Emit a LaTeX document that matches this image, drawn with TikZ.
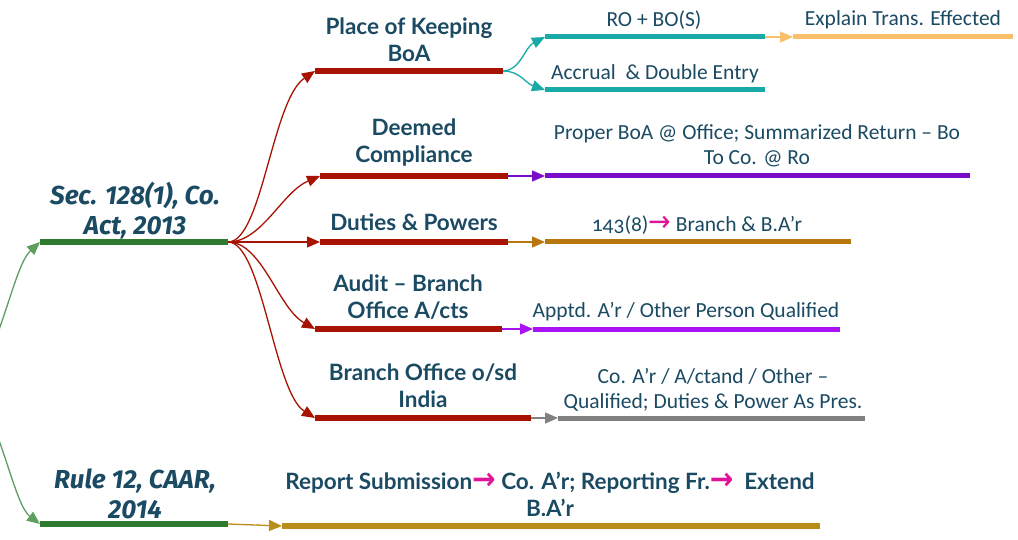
\documentclass[tikz,border=0pt]{standalone}
\usepackage{fontspec}
\setmainfont{Carlito}
\newfontfamily\headfont{Lato}
\newfontfamily\rootfont{Fira Sans}
\newfontfamily\symfont{DejaVu Sans}
\usetikzlibrary{arrows.meta}
\definecolor{ink}{HTML}{1B4A63}
\definecolor{cgreen}{HTML}{2E7A2E}
\definecolor{cgreenl}{HTML}{5E9E5E}
\definecolor{cred}{HTML}{A81200}
\definecolor{cteal}{HTML}{17AAA6}
\definecolor{corange}{HTML}{F9BF6A}
\definecolor{cpurple}{HTML}{7A0DC8}
\definecolor{cbrown}{HTML}{B8770C}
\definecolor{cviolet}{HTML}{A912F5}
\definecolor{cgray}{HTML}{808080}
\definecolor{cgold}{HTML}{B98C1C}
\definecolor{cpink}{HTML}{E0139B}
\newcommand{\parr}{{\symfont\color{cpink}\scalebox{1.25}[1.35]{→}}}
\tikzset{
  bar/.style={line width=6pt, line cap=butt},
  link/.style={line width=1.3pt, -{Triangle[length=13pt,width=11pt]}},
  head/.style={font=\headfont\bfseries\fontsize{22.5}{27}\selectfont, text=ink, align=center, inner sep=0pt},
  sub/.style={font=\fontsize{21.5}{25}\selectfont, text=ink, align=center, inner sep=0pt},
  rootlab/.style={font=\rootfont\bfseries\itshape\fontsize{26}{30}\selectfont, text=ink, align=center, inner sep=0pt},
}
\begin{document}
\begin{tikzpicture}[x=1pt,y=1pt]
\useasboundingbox[fill=white] (0,0) rectangle (1018,-540);
\clip (0,0) rectangle (1018,-540);
% coordinates
\coordinate (par) at (-25,-385);
\coordinate (r1s) at (40,-242);  \coordinate (r1e) at (228,-242);
\coordinate (r2s) at (40,-524);  \coordinate (r2e) at (228,-524);
\coordinate (a1s) at (315,-71);  \coordinate (a1e) at (503,-71);
\coordinate (a2s) at (320,-176); \coordinate (a2e) at (508,-176);
\coordinate (a3s) at (320,-242); \coordinate (a3e) at (508,-242);
\coordinate (a4s) at (315,-329); \coordinate (a4e) at (502,-329);
\coordinate (a5s) at (315,-418); \coordinate (a5e) at (531,-418);
\coordinate (b1s) at (545,-37);  \coordinate (b1e) at (765,-37);
\coordinate (b2s) at (545,-90);  \coordinate (b2e) at (765,-90);
\coordinate (c1s) at (793,-37);  \coordinate (c1e) at (1013,-37);
\coordinate (d2s) at (545,-176); \coordinate (d2e) at (970,-176);
\coordinate (d3s) at (545,-242); \coordinate (d3e) at (851,-242);
\coordinate (d4s) at (533,-329); \coordinate (d4e) at (840,-329);
\coordinate (d5s) at (558,-418); \coordinate (d5e) at (865,-418);
\coordinate (e1s) at (282,-526); \coordinate (e1e) at (820,-526);

% root connectors
\draw[link, cgreenl] (par) .. controls (5,-330) and (15,-265) .. (r1s);
\draw[link, cgreenl] (par) .. controls (5,-440) and (15,-505) .. (r2s);
% bars
\draw[bar, cgreen] (r1s) -- (r1e);
\draw[bar, cgreen] (r2s) -- (r2e);
\draw[bar, cred] (a1s) -- (a1e);
\draw[bar, cred] (a2s) -- (a2e);
\draw[bar, cred] (a3s) -- (a3e);
\draw[bar, cred] (a4s) -- (a4e);
\draw[bar, cred] (a5s) -- (a5e);
\draw[bar, cteal, line width=5pt] (b1s) -- (b1e);
\draw[bar, cteal, line width=5pt] (b2s) -- (b2e);
\draw[bar, corange, line width=5pt] (c1s) -- (c1e);
\draw[bar, cpurple, line width=5pt] (d2s) -- (d2e);
\draw[bar, cbrown, line width=5pt] (d3s) -- (d3e);
\draw[bar, cviolet, line width=5pt] (d4s) -- (d4e);
\draw[bar, cgray, line width=5pt] (d5s) -- (d5e);
\draw[bar, cgold] (e1s) -- (e1e);
% red fan
\draw[link, cred] (r1e) .. controls (262,-242) and (272,-100) .. (a1s);
\draw[link, cred] (r1e) .. controls (262,-242) and (282,-192) .. (a2s);
\draw[link, cred] (r1e) -- (a3s);
\draw[link, cred] (r1e) .. controls (262,-242) and (278,-308) .. (a4s);
\draw[link, cred] (r1e) .. controls (262,-242) and (274,-392) .. (a5s);
% teal fork
\draw[link, cteal] (a1e) .. controls (520,-71) and (525,-47) .. (b1s);
\draw[link, cteal] (a1e) .. controls (520,-71) and (525,-83) .. (b2s);
% straight links
\draw[link, corange] (b1e) -- (c1s);
\draw[link, cpurple] (a2e) -- (d2s);
\draw[link, cbrown] (a3e) -- (d3s);
\draw[link, cviolet] (a4e) -- (d4s);
\draw[link, cgray] (a5e) -- (d5s);
\draw[link, cgold] (r2e) -- (e1s);

% labels
\node[rootlab] (t0) at (135,-211) {Sec. 128(1), Co.\\Act, 2013};
\node[rootlab] (t9) at (135,-494) {Rule 12, CAAR,\\2014};
\node[head] (t1) at (409,-40) {Place of Keeping\\BoA};
\node[head] (t2) at (414,-143) {Deemed\\Compliance};
\node[head] (t3) at (414,-222) {Duties \& Powers};
\node[head] (t4) at (408,-297) {Audit – Branch\\Office A/cts};
\node[head] (t5) at (423,-386) {Branch Office o/sd\\India};
\node[sub] (u1) at (654,-20) {RO + BO(S)};
\node[sub] (u2) at (655,-74) {Accrual\ \ \& Double Entry};
\node[sub] (u3) at (903,-20) {Explain Trans. Effected};
\node[sub] (u4) at (757,-146) {Proper BoA @ Office; Summarized Return – Bo\\To Co. @ Ro};
\node[sub] (u5) at (697,-225) {{\addfontfeatures{Numbers=OldStyle}143(8)}\parr{} Branch \& B.A’r};
\node[sub] (u6) at (686,-312) {Apptd. A’r / Other Person Qualified};
\node[sub] (u7) at (713,-390) {Co. A’r / A/ctand / Other –\\Qualified; Duties \& Power As Pres.};
\node[head] (u8) at (550,-494) {Report Submission\parr{} Co. A’r; Reporting Fr.\parr{}\ \ Extend\\B.A’r};
\end{tikzpicture}
\end{document}
